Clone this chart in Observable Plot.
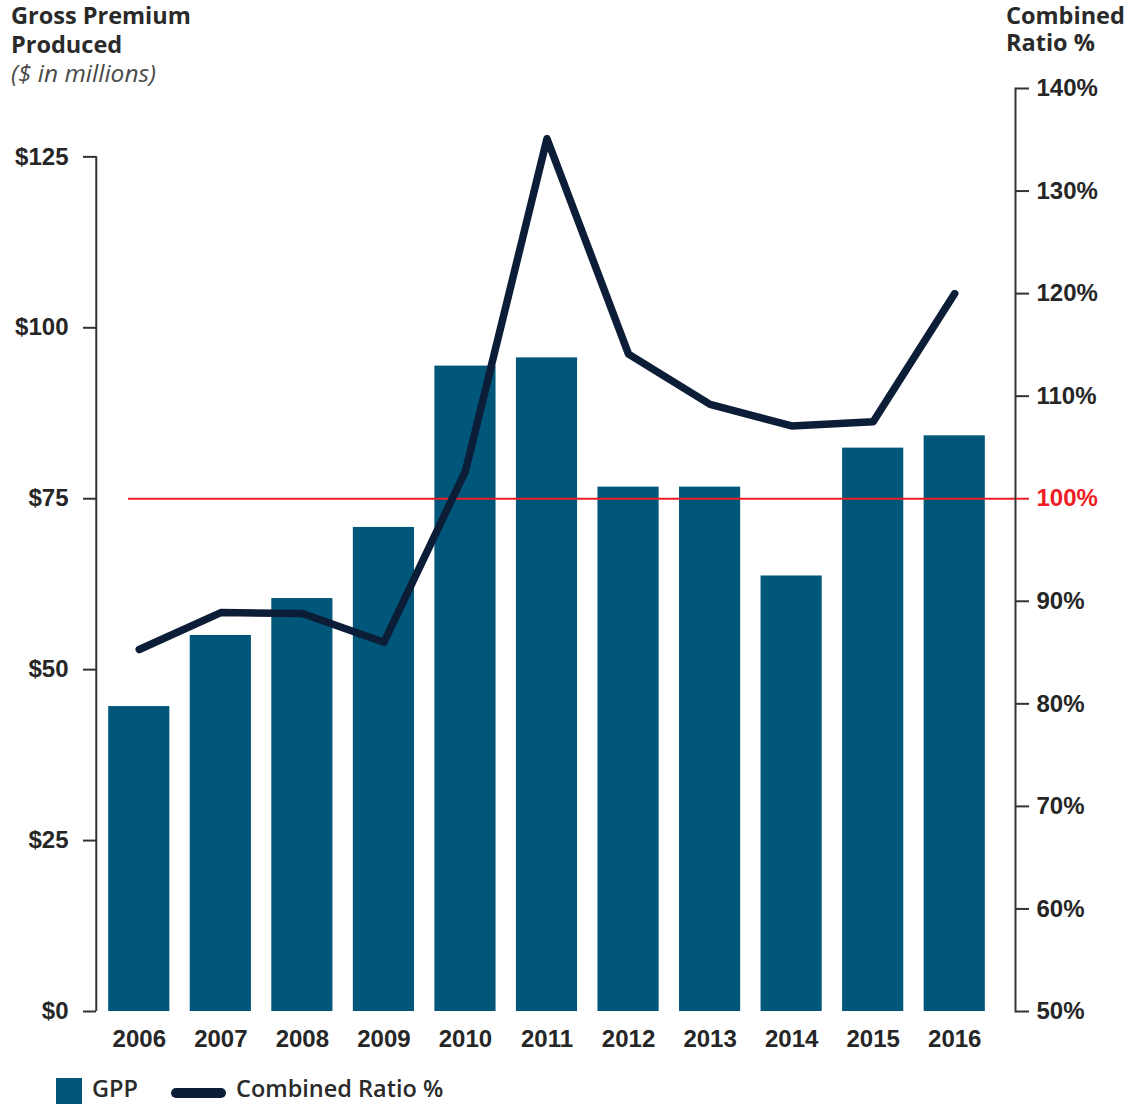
<!DOCTYPE html>
<html>
<head>
<meta charset="utf-8">
<script src="https://cdn.jsdelivr.net/npm/d3@7"></script>
<script src="https://cdn.jsdelivr.net/npm/@observablehq/plot@0.6"></script>
<style>
  html, body { margin: 0; padding: 0; background: #fff; }
  #wrap { position: relative; width: 1132px; height: 1105px; overflow: hidden; }
  #chart { position: absolute; left: 0; top: 0; }
  .t { position: absolute; font-family: "Open Sans", sans-serif; color: #2a2a2a; white-space: nowrap; }
  .ttl { font-weight: 700; font-size: 23.5px; line-height: 23.5px; }
  .sub { font-style: italic; font-size: 24.5px; line-height: 24.5px; color: #4a4a4a; }
  .leg { font-weight: 600; font-size: 23.5px; line-height: 23.5px; }
</style>
</head>
<body>
<div id="wrap">
  <div id="chart"></div>
  <div class="t ttl" style="left:11px; top:4px;">Gross Premium</div>
  <div class="t ttl" style="left:11px; top:33px;">Produced</div>
  <div class="t sub" style="left:11px; top:61px;">($ in millions)</div>
  <div class="t ttl" style="left:1006px; top:4px;">Combined</div>
  <div class="t ttl" style="left:1006px; top:31px;">Ratio %</div>
  <div class="t" style="left:56px; top:1078px; width:26px; height:26px; background:#005779;"></div>
  <div class="t leg" style="left:92px; top:1077px;">GPP</div>
  <div class="t" style="left:171px; top:1088px; width:55px; height:10px; border-radius:5px; background:#0c1d38;"></div>
  <div class="t leg" style="left:236px; top:1077px;">Combined Ratio %</div>
</div>
<script>
const years = ["2006","2007","2008","2009","2010","2011","2012","2013","2014","2015","2016"];
const gpp = [44.6, 55.0, 60.4, 70.8, 94.4, 95.6, 76.7, 76.7, 63.7, 82.4, 84.2];
const combinedRatio = [85.3, 88.9, 88.8, 86.0, 102.7, 135.1, 114.1, 109.2, 107.1, 107.5, 120.0];
const gppTicks = [0, 25, 50, 75, 100, 125];
const ratioTicks = [50, 60, 70, 80, 90, 100, 110, 120, 130, 140];

// right axis maps onto the left scale: 50% -> $0, 100% -> $75, 140% -> $135
const toY = r => (r - 50) * 1.5;
const fromY = y => Math.round(y / 1.5 + 50);

const rows = years.map((y, i) => ({year: y, gpp: gpp[i], ratioY: toY(combinedRatio[i])}));

const font = {fontFamily: "'Liberation Sans', Arial, sans-serif", fontSize: 24, fontWeight: "bold"};

const chart = Plot.plot({
  width: 1132,
  height: 1060,
  marginTop: 88,
  marginBottom: 49,
  marginLeft: 96,
  marginRight: 117,
  style: {background: "transparent", color: "#262626"},
  x: {domain: years, range: [98, 995], paddingInner: 0.25, paddingOuter: 0.125, round: false},
  y: {domain: [0, 135]},
  marks: [
    Plot.barY(rows, {x: "year", y: "gpp", fill: "#005779"}),
    Plot.ruleY([75], {stroke: "#ee1c25", strokeWidth: 2, insetLeft: 32}),
    Plot.lineY(rows, {x: "year", y: "ratioY", stroke: "#0c1d38", strokeWidth: 7.5, strokeLinejoin: "round", strokeLinecap: "round"}),
    Plot.frame({anchor: "right", stroke: "#333", strokeWidth: 2}),
    Plot.ruleX([years[0]], {x: d => d, y1: 0, y2: 125, dx: -43, stroke: "#333", strokeWidth: 2}),
    Plot.axisX({tickSize: 0, tickPadding: 18, label: null, ...font, fill: "#262626"}),
    Plot.axisY(gppTicks, {anchor: "left", tickSize: 13, tickPadding: 15, strokeWidth: 2, stroke: "#333", fill: "#262626",
      tickFormat: d => "$" + d, label: null, ...font}),
    Plot.axisY(ratioTicks.filter(r => r !== 100).map(toY), {anchor: "right", tickSize: 13, tickPadding: 8, strokeWidth: 2, stroke: "#333", fill: "#262626",
      tickFormat: d => fromY(d) + "%", label: null, ...font}),
    Plot.axisY([toY(100)], {anchor: "right", tickSize: 13, tickPadding: 8, strokeWidth: 2, stroke: "#ee1c25", fill: "#ee1c25",
      tickFormat: d => fromY(d) + "%", label: null, ...font})
  ]
});
document.getElementById("chart").appendChild(chart);
</script>
</body>
</html>
